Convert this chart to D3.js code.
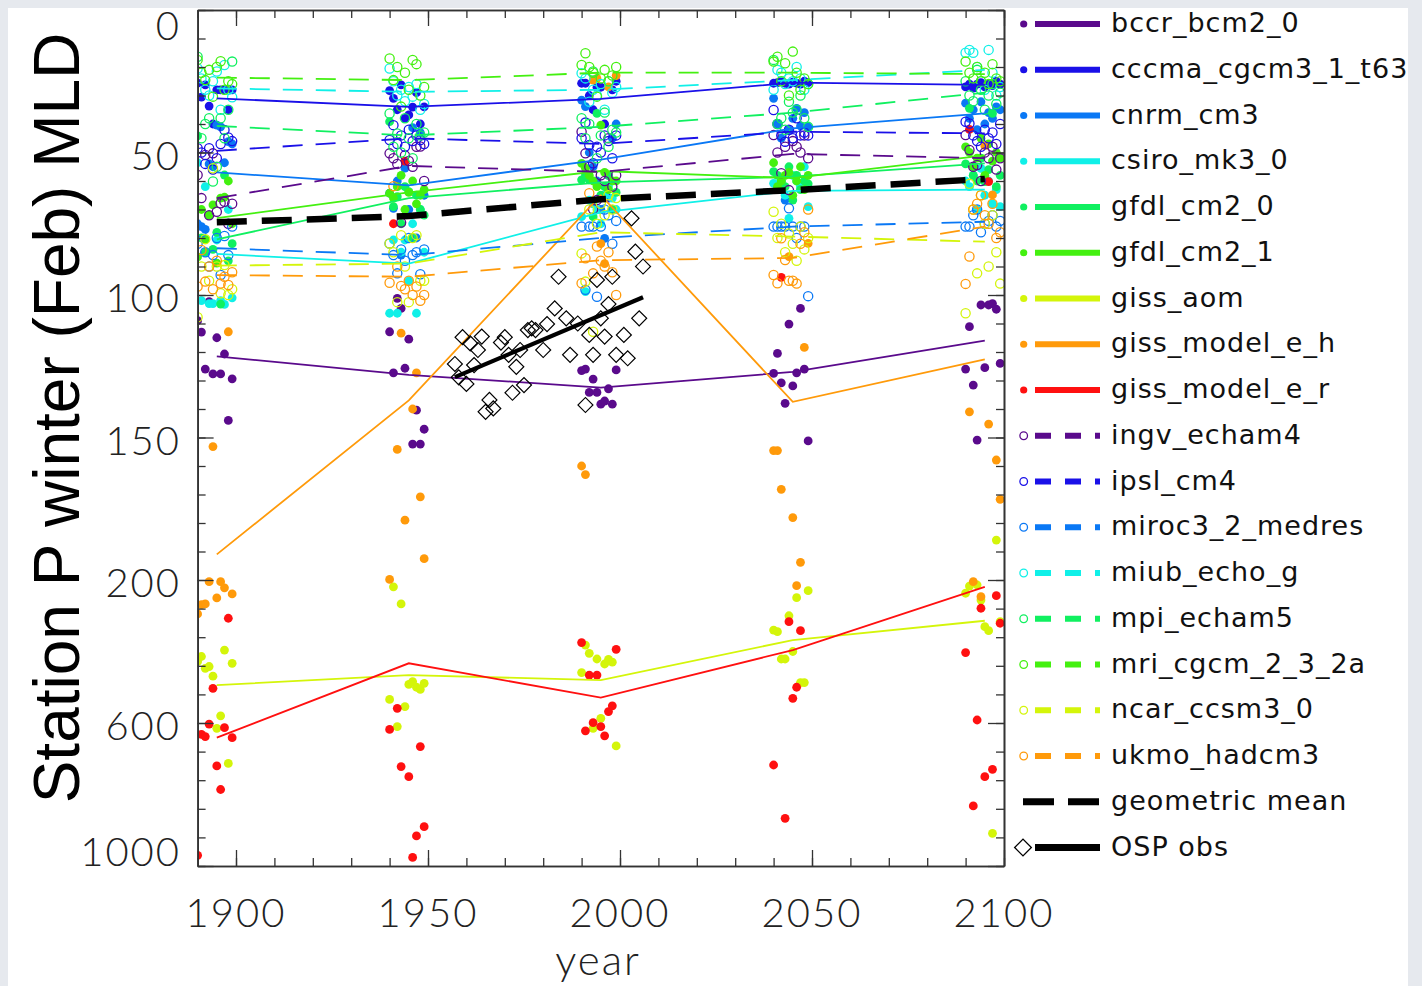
<!DOCTYPE html>
<html>
<head>
<meta charset="utf-8">
<script src="https://cdn.jsdelivr.net/npm/d3@7"></script>
<style>
  html, body { margin: 0; padding: 0; background: #e6e9ee; }
  svg { display: block; }
</style>
</head>
<body>
<svg id="chart" width="1422" height="986"></svg>
<script>
// ---- data ----
const models = ["bccr_bcm2_0", "cccma_cgcm3_1_t63", "cnrm_cm3", "csiro_mk3_0", "gfdl_cm2_0",
  "gfdl_cm2_1", "giss_aom", "giss_model_e_h", "giss_model_e_r", "ingv_echam4", "ipsl_cm4",
  "miroc3_2_medres", "miub_echo_g", "mpi_echam5", "mri_cgcm_2_3_2a", "ncar_ccsm3_0", "ukmo_hadcm3"];
const palette = ["#5a0a8c", "#1a10e8", "#0a78f5", "#10f0e8", "#10f060", "#44f010", "#d4f50a", "#ff9a0a", "#ff1010"];
const modelColor = models.map((m, i) => palette[i < 9 ? i : i - 9]);
const modelDashed = models.map((m, i) => i >= 9);

const decadeStarts = [1890, 1940, 1990, 2040, 2090];
const meanYears = [1895, 1945, 1995, 2045, 2095];

// period means per model (m)
const meanMLD = [
  [121.5, 128, 132.5, 127, 116],
  [31, 34, 31.2, 25.5, 26.3],
  [57, 61.5, 52.5, 41.5, 36.3],
  [85.6, 89, 71, 63.5, 63],
  [80.5, 66, 60.5, 58.5, 53.8],
  [73, 64, 56.5, 59, 51],
  [494, 466, 480, 368, 314],
  [191, 137, 65, 137.5, 122.6],
  [641, 433, 529, 396, 219],
  [66, 54.7, 56.8, 50.5, 52],
  [49.4, 45, 47, 42.7, 43.3],
  [83.6, 86, 80, 76, 74.3],
  [27.5, 28.7, 28, 24.6, 21],
  [40.7, 44, 41, 36, 29],
  [23.7, 24.6, 22, 22, 22.5],
  [89.7, 89, 78, 79.5, 81.3],
  [93, 93.6, 87.8, 87, 76]
];
const geoMean = [74.5, 72.3, 66.4, 63.2, 59.3];

// yearly winter MLD, one row per model, 10 years per decade
const pts1890 = [
  [109, 113, 126, 102.3, 127.7, 115, 127.7, 120.7, 144, 129.4],
  [25.7, 30.6, 26.3, 33.7, 40, 28, 28, 28, 35, 28],
  [75, 76, 77, 54, 55, 40.4, 41, 53.6, 46.2, 47],
  [53.6, 102, 62, 103, 103, 80.7, 102, 103.3, 70, 101],
  [44.2, 80, 85, 72, 84, 78, 103.2, 57.9, 88, 82],
  [86.6, 70, 80.5, 72, 68.4, 88.8, 66, 65.7, 60, 75],
  [428, 414, 447, 442, 469, 615, 580, 396, 713, 433],
  [295, 269, 267, 204.7, 153.2, 250, 204.7, 222, 112.9, 239],
  [970, 632, 638, 603, 503, 720, 786, 613, 307, 641],
  [57.9, 66, 50.9, 72, 50.3, 70.8, 67.8, 67.3, 75, 68],
  [48.5, 50, 54, 48.5, 56, 52, 47, 42.1, 44.7, 46],
  [82, 78, 85, 90, 86, 80, 93, 79.3, 86, 76],
  [20.5, 24, 28, 30, 25, 21.6, 35, 19.3, 28, 30.6],
  [16.4, 45, 40, 38, 60.2, 55, 38, 45, 35, 18.1],
  [17.5, 22, 24.6, 21, 30.4, 20, 18, 28, 25, 26],
  [107.8, 90, 80.4, 95, 55.5, 90, 99.4, 89.5, 100, 98],
  [97, 84.2, 95.3, 90, 98, 88, 96, 93.6, 96.5, 92]
];
const pts1940 = [
  [112.9, 127.3, 101.2, 104.7, 125.7, 115.5, 152.3, 140.4, 152.3, 147.1],
  [28.3, 31, 35, 26.3, 38, 36.8, 34.1, 29, 40, 34],
  [64.3, 69.6, 60, 86, 55.5, 70, 41.3, 80, 43, 65],
  [106.4, 80.7, 106.4, 85, 80.7, 95, 75, 106.4, 70, 85],
  [39.2, 69, 65.5, 75, 62, 63.7, 80, 65, 70, 72],
  [64.3, 66, 62, 58, 70, 64, 60, 68, 65, 63],
  [534, 219, 610, 267, 554, 492, 484, 500, 506, 489],
  [199.8, null, 154.2, 113.4, 179, null, 140, 127.3, 170.8, 192.5],
  [618, 75, 559, 722, 53, 750, 976, 916, 666, 890],
  [50.3, 52, 54, 74.6, 51, 53, 55, 48, 47.9, 60],
  [45.6, 40.4, 47, 44, 48, 42, 46, 44, 45.6, 47],
  [81.9, 86, 92.4, 84, 88, 80, 86, 85, 92.7, 84],
  [20.5, 25, 30, 28, 32, 27, 30.4, 26, 35, 33],
  [36.3, 48, 43.3, 50, 38, 45, 52, 40, 44, 43],
  [17, 24.6, 20, 33.9, 22, 28, 17.5, 19, 30, 27],
  [81.9, 85, 102.5, 79, 90, 102.5, 80, 79, 95, 95],
  [95.7, 61.8, 90, 96.8, 98, 95, 100, 97, 102, 100]
];
const pts1990 = [
  [126.5, 126, 134.2, 129.5, 134.2, 138.3, 137.2, 132.9, 138.3, 126.3],
  [25.7, 25.7, 30, 35, 27.1, 27.1, 40, 66, 28, 25],
  [31.6, 33.9, 50, 55, 60, 70, 80.1, 58, 45, 40],
  [72.5, 98.8, 66.7, 68, 70, 75, 65, 62, 66, 70],
  [59.6, 57.9, 59.6, 72.5, 36.3, 65, 62, 58, 70, 64],
  [53.8, 55.5, 58, 60, 62, 40.4, 57, 63, 60, 60],
  [459, 382, 405, 615, 421, 587, 435, 422, 430, 664],
  [160, 163, null, 24.6, 24, 82, 89, 27, null, 23],
  [375, 622, 466, 599, 466, 610, 636, 568, 552, 394],
  [42.7, 50.3, 55, 69.9, 66.7, 58, 60, 45, 62, 58],
  [45, 39.5, 47.4, 53.8, 48, 50, 44, 46, 52, 44],
  [76, 98.2, 76, 76, 100.6, 76, 70, 72, 82, 74],
  [22.2, 24, 32.2, 28, 30, 26, 35, 25, 29, 27],
  [38, 45, 40, 21.6, 52, 44, 36, 48, 42, 43],
  [19.3, 15.2, 20, 22, 30.4, 24, 21, 25, 23, 20],
  [85.4, 95.3, 70, 112.9, 75, 68, 72, 65, 70, 66],
  [95.9, 87.1, 64.3, 92.4, 83, 88, 90, 85, 92, 100]
];
const pts2040 = [
  [127.5, 120.5, 130.8, 138, 110.2, 131.9, 127.3, 104.7, 126, 151.2],
  [25.7, 25.5, 25, 25.7, 26, 25.3, 25.7, 26, 25, 25.5],
  [31, 40, 45, 66.7, 42, 38, 34.5, 40.7, 36, 41],
  [60.8, 62, 60, 65, 73.1, 58, 60, 62, 55, 69],
  [56.7, 58, 60, 62, 55, 66.7, 58, 63, 60, 61],
  [53.6, 62, 60, 58, 57, 65, 60, 55, 63, 58],
  [340, 344.6, 421, 421, 300, 400, 249.5, 487, 487, 229.8],
  [154.6, 154.6, 168.2, null, 86.5, 178.1, 216, 193.8, 118.4, 81.9],
  [717.5, null, 93.8, 866.7, 316.6, 531, 500, 341.7, null, null],
  [43.9, 50, 57.3, 48, 63.2, 46, 48, 50, 44, 52],
  [35.1, 40, 44, 46.2, 42, 45, 38, 44, 43, 44],
  [76, 76, 76, 76, 69.6, 76, 80, 76, 76, 100.4],
  [28, 21, 22, 26, 24, 25, 20, 24, 28, 26],
  [17.5, 40, 38, 42, 32.2, 36, 35, 30, 38, 41],
  [18.1, 16.4, 25, 18.7, 30, 14.6, 22, 28, 24, 26],
  [70.8, 80, 75, 85, 78.4, 82, 88, 76, 84, 80],
  [93, 95.9, 80.1, 87.7, 95, 95, 96, 82, 78, 70]
];
const pts2090 = [
  [126, 111.1, 131.6, 150.9, 103.5, 125.5, 103.5, 103, 105, 124],
  [27, 26, 27.4, 26, 25.5, 27, 26, 26.5, 25, 26],
  [32.7, 38, 35, 42, 32.2, 40, 36, 38, 34, 35],
  [60, 62, 58, 70, 55.6, 65, 60, 68, 63, 69],
  [54, 34.5, 58, 60, 52, 60.2, 56, 36.3, 62, 58],
  [48, 50, 55, 52, 45, 58, 47, 53, 50, 52],
  [237, 217, null, 214, 256, 330.6, 341.7, 908.6, 186, 316.6],
  [null, 141, 204.7, null, 246.6, 47.6, 145.3, 64.9, 157.9, 171.7],
  [403, 41.9, 832, 591.6, 279, 750, 60.2, 729.7, 243.8, 321],
  [43.9, 49.1, 55, 54.4, 60, 50, 52, 48, 56, 52],
  [39.2, 39.8, 44, 46, 48, 42, 45, 43, 47, 40],
  [76, 76, 72, 70, 78, 75, 74, 72, 76, 74],
  [15, 14, 15, 20, 25, 28, 14, 22, 30, 27],
  [25, 30, 32, 21, 28, 35, 30, 26, 33, 29],
  [18.1, 22, 24, 20, 25, 22, 26, 19, 24, 25],
  [106.4, 61, 70, 92.4, 65, 75, 90, 72, 85, 96],
  [96.1, 86.5, 70, 68, 65, 72, 75, 68, 80, 78]
];
const periodPts = [pts1890, pts1940, pts1990, pts2040, pts2090];

// Ocean Station P observations
const obsYears = [1957, 1958, 1959, 1960, 1961, 1962, 1963, 1964, 1965, 1966, 1967, 1969, 1970, 1971,
  1972, 1973, 1974, 1975, 1976, 1977, 1978, 1980, 1981, 1983, 1984, 1986, 1987, 1989, 1991, 1992,
  1993, 1994, 1995, 1996, 1997, 1998, 1999, 2001, 2002, 2003, 2004, 2005, 2006];
const obsMLD = [124.2, 128.9, 114.8, 131.2, 117, 124.6, 119.3, 114.6, 141, 136.8, 139.8, 116.7, 114.8, 121,
  134.3, 125.2, 119.3, 131.6, 112.3, 111.7, 112.3, 119.3, 110.2, 104.7, 93.6, 108.2, 121, 110, 138.6, 114,
  121, 94.7, 108.2, 114.6, 103.2, 93.6, 121, 114, 122.2, 73.1, 84.8, 108.2, 90];
const obsFitYears = [1957, 2006];
const obsFitMLD = [128.8, 100.8];

const yMinorTicks = d3.range(0, 200, 10).concat(d3.range(200, 1001, 80));
const yMajorTicks = [0, 50, 100, 150, 200, 600, 1000];
const xMinorTicks = d3.range(1890, 2101, 10);
const xMajorTicks = [1900, 1950, 2000, 2050, 2100];

// ---- drawing ----
const svg = d3.select("#chart");
const plot = { left: 197.6, right: 1004, top: 10, bottom: 866 };
const x = d3.scaleLinear().domain([1890, 2100]).range([plot.left, plot.right]);
// linear to 200 m, compressed linear below
const y = d3.scaleLinear().domain([0, 200, 1000]).range([plot.top, 580, plot.bottom]);

svg.append("rect").attr("x", 8).attr("y", 8).attr("width", 1400).attr("height", 978).attr("fill", "#fff");

svg.append("defs").append("clipPath").attr("id", "clip")
  .append("rect")
  .attr("x", plot.left).attr("y", plot.top)
  .attr("width", plot.right - plot.left).attr("height", plot.bottom - plot.top);

const g = svg.append("g").attr("clip-path", "url(#clip)");

// scatter points, model by model
const points = [];
models.forEach((m, mi) => {
  periodPts.forEach((rows, p) => {
    rows[mi].forEach((v, k) => {
      if (v !== null) points.push({ mi, year: decadeStarts[p] + k, v });
    });
  });
});

g.selectAll("circle.pt")
  .data(points)
  .join("circle")
  .attr("class", "pt")
  .attr("cx", d => x(d.year))
  .attr("cy", d => y(d.v))
  .attr("r", d => modelDashed[d.mi] ? 4.6 : 4.4)
  .attr("fill", d => modelDashed[d.mi] ? "none" : modelColor[d.mi])
  .attr("stroke", d => modelDashed[d.mi] ? modelColor[d.mi] : "none")
  .attr("stroke-width", 1.3);

const line = d3.line().x(d => x(d[0])).y(d => y(d[1]));

g.selectAll("path.model")
  .data(models.map((m, mi) => meanYears.map((yr, p) => [yr, meanMLD[mi][p]])))
  .join("path")
  .attr("class", "model")
  .attr("d", line)
  .attr("fill", "none")
  .attr("stroke", (d, i) => modelColor[i])
  .attr("stroke-width", 1.8)
  .attr("stroke-dasharray", (d, i) => modelDashed[i] ? "20,13" : null);

g.append("path")
  .attr("d", line(meanYears.map((yr, p) => [yr, geoMean[p]])))
  .attr("fill", "none")
  .attr("stroke", "#000")
  .attr("stroke-width", 6.5)
  .attr("stroke-dasharray", "30,15");

const diamond = d3.symbol(d3.symbolSquare, 112);
g.selectAll("path.obs")
  .data(obsYears.map((yr, i) => [yr, obsMLD[i]]))
  .join("path")
  .attr("class", "obs")
  .attr("d", diamond)
  .attr("transform", d => `translate(${x(d[0])},${y(d[1])}) rotate(45)`)
  .attr("fill", "none")
  .attr("stroke", "#000")
  .attr("stroke-width", 1.2);

g.append("path")
  .attr("d", line(obsFitYears.map((yr, i) => [yr, obsFitMLD[i]])))
  .attr("stroke", "#000")
  .attr("stroke-width", 4.2);

// axes
const axisColor = "#333";
function styleAxis(sel) {
  sel.select(".domain").attr("stroke", axisColor).attr("stroke-width", 1.6);
  sel.selectAll(".tick line").attr("stroke", axisColor).attr("stroke-width", 1.3);
  sel.selectAll(".tick text").remove();
}
function addAxis(axisFn, ticks, size, transform) {
  svg.append("g")
    .attr("transform", transform)
    .call(axisFn.tickValues(ticks).tickSize(-size).tickSizeOuter(0))
    .call(styleAxis);
}
addAxis(d3.axisLeft(y), yMinorTicks, 8, `translate(${plot.left},0)`);
addAxis(d3.axisLeft(y), yMajorTicks, 16, `translate(${plot.left},0)`);
addAxis(d3.axisRight(y), yMinorTicks, 8, `translate(${plot.right},0)`);
addAxis(d3.axisRight(y), yMajorTicks, 16, `translate(${plot.right},0)`);
addAxis(d3.axisBottom(x), xMinorTicks, 8, `translate(0,${plot.bottom})`);
addAxis(d3.axisBottom(x), xMajorTicks, 16, `translate(0,${plot.bottom})`);
addAxis(d3.axisTop(x), xMinorTicks, 8, `translate(0,${plot.top})`);
addAxis(d3.axisTop(x), xMajorTicks, 16, `translate(0,${plot.top})`);

const tickFont = "Lato, 'DejaVu Sans', sans-serif";
svg.append("g").selectAll("text")
  .data(yMajorTicks)
  .join("text")
  .attr("x", 181)
  .attr("y", d => Math.min(Math.max(y(d) + 3, 25.5), 852) + 14)
  .attr("text-anchor", "end")
  .attr("font-family", tickFont)
  .attr("font-weight", 300)
  .attr("font-size", 40)
  .attr("letter-spacing", 2)
  .attr("fill", "#222")
  .text(d => d);

svg.append("g").selectAll("text")
  .data(xMajorTicks)
  .join("text")
  .attr("x", d => x(d))
  .attr("y", 927)
  .attr("text-anchor", "middle")
  .attr("font-family", tickFont)
  .attr("font-weight", 300)
  .attr("font-size", 40)
  .attr("letter-spacing", 2)
  .attr("fill", "#222")
  .text(d => d);

svg.append("text")
  .attr("x", 598).attr("y", 975)
  .attr("text-anchor", "middle")
  .attr("font-family", tickFont)
  .attr("font-weight", 300)
  .attr("font-size", 42)
  .attr("letter-spacing", 2)
  .attr("fill", "#222")
  .text("year");

svg.append("text")
  .attr("transform", "translate(79,418) rotate(-90)")
  .attr("text-anchor", "middle")
  .attr("font-family", "'Liberation Sans', Arial, sans-serif")
  .attr("font-size", 64)
  .attr("fill", "#000")
  .text("Station P winter (Feb) MLD");

// legend
const legendItems = models.map((m, i) => ({ label: m, color: modelColor[i], dashed: modelDashed[i], kind: "model" }))
  .concat([{ label: "geometric mean", kind: "mean" }, { label: "OSP obs", kind: "obs" }]);

const legend = svg.append("g");
const rows = legend.selectAll("g")
  .data(legendItems)
  .join("g")
  .attr("transform", (d, i) => `translate(0,${24 + i * 45.75})`);

rows.filter(d => d.kind === "model").append("circle")
  .attr("cx", 1023.7).attr("cy", 0)
  .attr("r", d => d.dashed ? 3.8 : 3.6)
  .attr("fill", d => d.dashed ? "#fff" : d.color)
  .attr("stroke", d => d.dashed ? d.color : "none")
  .attr("stroke-width", 1.3);

rows.filter(d => d.kind === "model").append("line")
  .attr("x1", 1035).attr("x2", 1100)
  .attr("stroke", d => d.color)
  .attr("stroke-width", 6)
  .attr("stroke-dasharray", d => d.dashed ? "16,14" : null);

rows.filter(d => d.kind === "mean").append("line")
  .attr("x1", 1023).attr("x2", 1100)
  .attr("stroke", "#000")
  .attr("stroke-width", 7)
  .attr("stroke-dasharray", "31,14");

rows.filter(d => d.kind === "obs").append("path")
  .attr("d", d3.symbol(d3.symbolSquare, 140))
  .attr("transform", "translate(1023,0) rotate(45)")
  .attr("fill", "#fff")
  .attr("stroke", "#000")
  .attr("stroke-width", 1.3);

rows.filter(d => d.kind === "obs").append("line")
  .attr("x1", 1035).attr("x2", 1100)
  .attr("stroke", "#000")
  .attr("stroke-width", 7);

rows.append("text")
  .attr("x", 1111)
  .attr("y", 8)
  .attr("font-family", "'DejaVu Sans', sans-serif")
  .attr("font-size", 27)
  .attr("letter-spacing", 1)
  .attr("fill", "#111")
  .text(d => d.label);
</script>
</body>
</html>
